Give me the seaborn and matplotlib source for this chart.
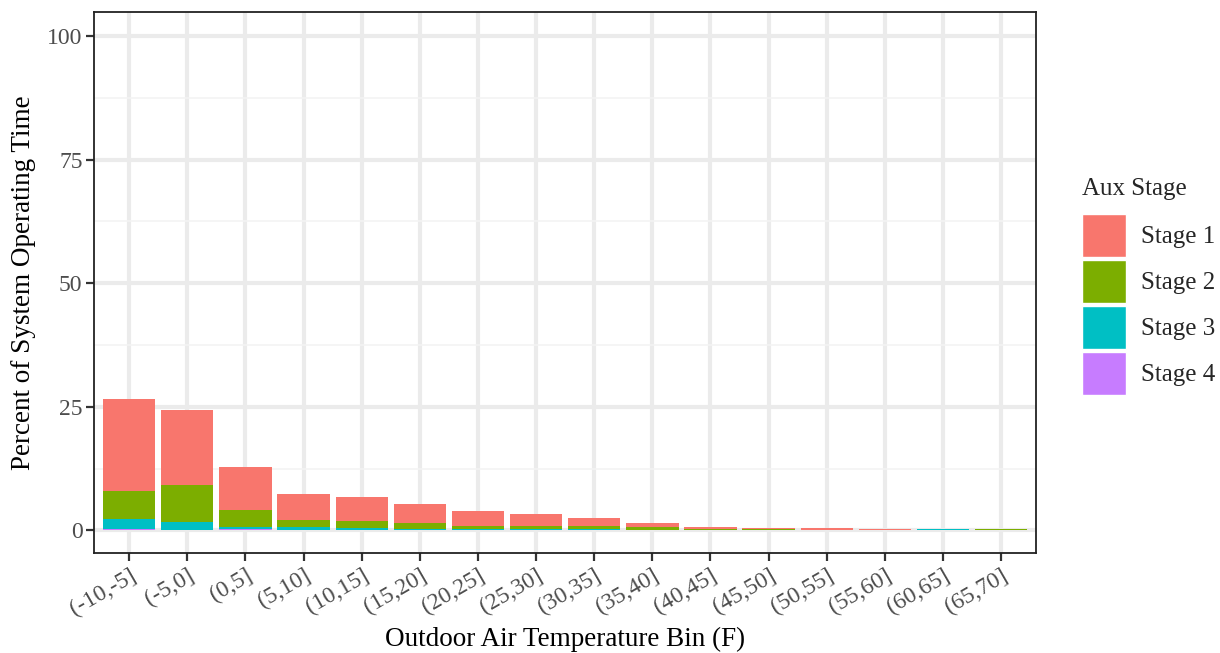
import matplotlib
matplotlib.use("Agg")
import matplotlib.pyplot as plt
from matplotlib.patches import Patch
from matplotlib.ticker import MultipleLocator
import numpy as np
import pandas as pd
import seaborn as sns

categories = ["(-10,-5]", "(-5,0]", "(0,5]", "(5,10]", "(10,15]", "(15,20]",
              "(20,25]", "(25,30]", "(30,35]", "(35,40]", "(40,45]", "(45,50]",
              "(50,55]", "(55,60]", "(60,65]", "(65,70]"]
stage1 = [18.6, 15.2, 8.7, 5.2, 4.9, 3.95, 3.05, 2.43, 1.43, 0.83, 0.45, 0.20, 0.35, 0.18, 0.00, 0.00]
stage2 = [5.8, 7.4, 3.45, 1.35, 1.35, 1.2, 0.70, 0.52, 0.72, 0.42, 0.15, 0.15, 0.02, 0.00, 0.00, 0.35]
stage3 = [2.0, 1.65, 0.35, 0.65, 0.43, 0.25, 0.20, 0.25, 0.25, 0.15, 0.10, 0.05, 0.00, 0.15, 0.33, 0.00]
stage4 = [0.2, 0.05, 0.30, 0.05, 0.02, 0.00, 0.00, 0.00, 0.00, 0.00, 0.00, 0.00, 0.00, 0.00, 0.00, 0.00]
stage_names = ["Stage 1", "Stage 2", "Stage 3", "Stage 4"]
colors = ["#F8766D", "#7CAE00", "#00BFC4", "#C77CFF"]

df = pd.DataFrame({"bin": categories, "Stage 1": stage1, "Stage 2": stage2,
                   "Stage 3": stage3, "Stage 4": stage4})

sns.set_theme(style="white")
plt.rcParams["font.family"] = ["Liberation Serif", "DejaVu Serif"]

fig = plt.figure(figsize=(12.2, 6.53), dpi=100)
ax = fig.add_axes([0.0773, 0.1527, 0.7719, 0.8289])

# cumulative stacks, Stage 4 at bottom, Stage 1 on top
stack_order = ["Stage 4", "Stage 3", "Stage 2", "Stage 1"]
cum = df[stack_order].cumsum(axis=1)
for name in reversed(stack_order):
    col = colors[stage_names.index(name)]
    d = pd.DataFrame({"bin": categories, "val": cum[name]})
    sns.barplot(data=d, x="bin", y="val", order=categories, color=col,
                saturation=1, width=0.9, linewidth=0, ax=ax, zorder=3)

ax.set_xlim(-0.6, 15.6)
ax.set_ylim(-4.65, 104.86)
ax.set_yticks([0, 25, 50, 75, 100])
ax.yaxis.set_minor_locator(MultipleLocator(12.5))
ax.set_axisbelow(True)
ax.grid(True, which="major", color="#EBEBEB", linewidth=3.0)
ax.grid(True, which="minor", axis="y", color="#F3F3F3", linewidth=1.1)
ax.set_facecolor("white")
for s in ax.spines.values():
    s.set_visible(True)
    s.set_color("#222222")
    s.set_linewidth(1.3)

ax.tick_params(axis="both", which="major", length=5.5, width=1.6, color="#333333",
               labelsize=17, labelcolor="#4D4D4D", pad=3, bottom=True, left=True)
ax.tick_params(axis="y", which="minor", length=0)
plt.setp(ax.get_xticklabels(), rotation=30, ha="right", va="top", rotation_mode="anchor")

ax.set_xlabel("Outdoor Air Temperature Bin (F)", fontsize=19.5, color="black", labelpad=5)
ax.set_ylabel("Percent of System Operating Time", fontsize=19.5, color="black", labelpad=8)

handles = [Patch(facecolor=c, edgecolor="white", linewidth=1, label=n) for c, n in zip(colors, stage_names)]
leg = fig.legend(handles=handles, title="Aux Stage", loc="upper left",
                 bbox_to_anchor=(0.8785, 0.743), frameon=False, fontsize=18,
                 title_fontsize=18, handlelength=1.75, handleheight=2.3,
                 labelspacing=0.1, handletextpad=0.6, borderaxespad=0)
leg._legend_box.align = "left"
leg._legend_box.sep = 10

fig.savefig("out.png", dpi=100)
